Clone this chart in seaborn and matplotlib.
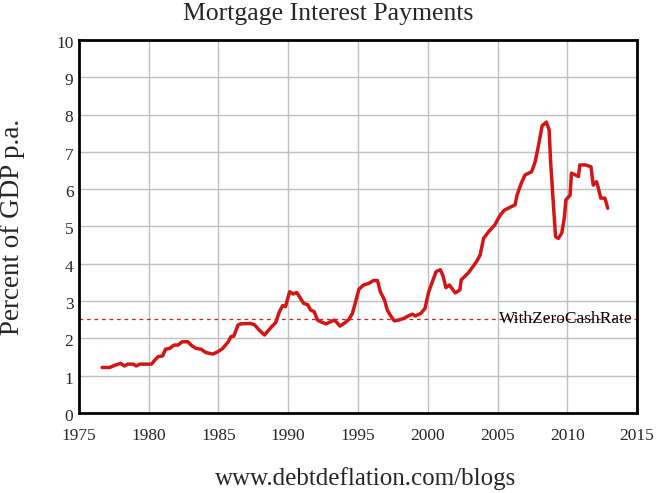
import matplotlib
matplotlib.use("Agg")
import matplotlib.pyplot as plt
import matplotlib.transforms as mtransforms
import seaborn as sns
import pandas as pd

years = [1976.66, 1977.2, 1977.57, 1978.0, 1978.24, 1978.5, 1978.9, 1979.1, 1979.36, 1979.95,
         1980.2, 1980.4, 1980.66, 1981.0, 1981.2, 1981.5, 1981.8, 1982.1, 1982.4, 1982.8,
         1983.1, 1983.4, 1983.75, 1984.1, 1984.6, 1984.95, 1985.3, 1985.7, 1985.9, 1986.1,
         1986.4, 1986.6, 1987.3, 1987.6, 1987.9, 1988.3, 1988.5, 1988.8, 1989.1, 1989.35,
         1989.6, 1989.8, 1990.1, 1990.36, 1990.6, 1990.8, 1991.1, 1991.4, 1991.6, 1991.85,
         1992.1, 1992.3, 1992.7, 1993.05, 1993.3, 1993.5, 1993.7, 1994.0, 1994.35, 1994.6,
         1994.8, 1995.07, 1995.4, 1995.8, 1996.1, 1996.4, 1996.6, 1996.9, 1997.1, 1997.3,
         1997.6, 1997.9, 1998.3, 1998.6, 1998.9, 1999.1, 1999.5, 1999.8, 2000.07, 2000.36,
         2000.6, 2000.9, 2001.1, 2001.3, 2001.55, 2001.97, 2002.3, 2002.4, 2002.9, 2003.5,
         2003.76, 2004.0, 2004.36, 2004.8, 2005.2, 2005.5, 2006.26, 2006.4, 2006.7, 2006.97,
         2007.45, 2007.7, 2007.9, 2008.2, 2008.5, 2008.7, 2008.8, 2009.0, 2009.16, 2009.36,
         2009.6, 2009.8, 2009.9, 2010.2, 2010.3, 2010.6, 2010.8, 2010.9, 2011.3, 2011.7,
         2011.86, 2012.1, 2012.2, 2012.4, 2012.7, 2012.9]
values = [1.22, 1.22, 1.28, 1.33, 1.26, 1.31, 1.31, 1.26, 1.31, 1.31,
          1.31, 1.40, 1.51, 1.53, 1.71, 1.73, 1.82, 1.82, 1.91, 1.91,
          1.80, 1.73, 1.71, 1.62, 1.58, 1.64, 1.73, 1.91, 2.05, 2.06,
          2.36, 2.39, 2.40, 2.36, 2.23, 2.09, 2.18, 2.31, 2.42, 2.70,
          2.88, 2.85, 3.25, 3.19, 3.23, 3.12, 2.94, 2.90, 2.76, 2.72,
          2.49, 2.45, 2.39, 2.45, 2.49, 2.42, 2.33, 2.40, 2.51, 2.67,
          2.94, 3.32, 3.43, 3.48, 3.55, 3.55, 3.25, 3.03, 2.76, 2.63,
          2.47, 2.49, 2.54, 2.60, 2.65, 2.60, 2.67, 2.80, 3.25, 3.55,
          3.79, 3.84, 3.67, 3.36, 3.43, 3.22, 3.30, 3.57, 3.75, 4.06,
          4.24, 4.68, 4.86, 5.04, 5.31, 5.44, 5.58, 5.84, 6.16, 6.38,
          6.47, 6.74, 7.10, 7.70, 7.80, 7.59, 6.78, 5.62, 4.73, 4.68,
          4.82, 5.26, 5.71, 5.84, 6.43, 6.38, 6.34, 6.65, 6.65, 6.60,
          6.11, 6.20, 6.07, 5.76, 5.76, 5.49]
zero_cash_rate = 2.52
x_ticks = [1975, 1980, 1985, 1990, 1995, 2000, 2005, 2010, 2015]
y_ticks = [0, 1, 2, 3, 4, 5, 6, 7, 8, 9, 10]

df = pd.DataFrame({"Year": years, "Percent": values})

sns.set_style("white")
plt.rcParams["font.family"] = ["Liberation Serif", "DejaVu Serif"]

fig = plt.figure(figsize=(6.57, 4.93), dpi=100)
ax = fig.add_axes([0.1202, 0.1623, 0.8494, 0.7566])

ax.axhline(zero_cash_rate, color="#d02020", lw=0.9, ls=(0, (3, 3)), zorder=2)
sns.lineplot(data=df, x="Year", y="Percent", ax=ax, color="#d41515", lw=2.5,
             sort=False, estimator=None, zorder=3)

ax.set_xlim(1975, 2015)
ax.set_ylim(0, 10)
ax.set_xticks(x_ticks)
ax.set_yticks(y_ticks)
ax.set_xticklabels([str(t) for t in x_ticks], fontsize=12.5)
ax.set_yticklabels([str(t) for t in y_ticks], fontsize=12.5)
ax.tick_params(axis="x", length=0, pad=11)
ax.tick_params(axis="y", length=0, pad=4)
shift = mtransforms.ScaledTranslation(0, 3 / 72, fig.dpi_scale_trans)
for lbl in ax.get_yticklabels():
    lbl.set_va("top")
    lbl.set_transform(lbl.get_transform() + shift)
ax.grid(True, color="#c0c0c0", lw=1.0, zorder=0)
for s in ax.spines.values():
    s.set_color("black")
    s.set_linewidth(2.0)
    s.set_visible(True)
ax.set_xlabel("")
ax.set_ylabel("Percent of GDP p.a.", fontsize=19.5, labelpad=22)

ax.text(2014.7, zero_cash_rate, "WithZeroCashRate", ha="right", va="center",
        fontsize=12.5, color="black", zorder=4)

fig.text(0.5, 0.971, "Mortgage Interest Payments", ha="center", va="center", fontsize=18.5)
fig.text(0.557, 0.030, "www.debtdeflation.com/blogs", ha="center", va="center", fontsize=18)

fig.savefig("out.png", dpi=100)
